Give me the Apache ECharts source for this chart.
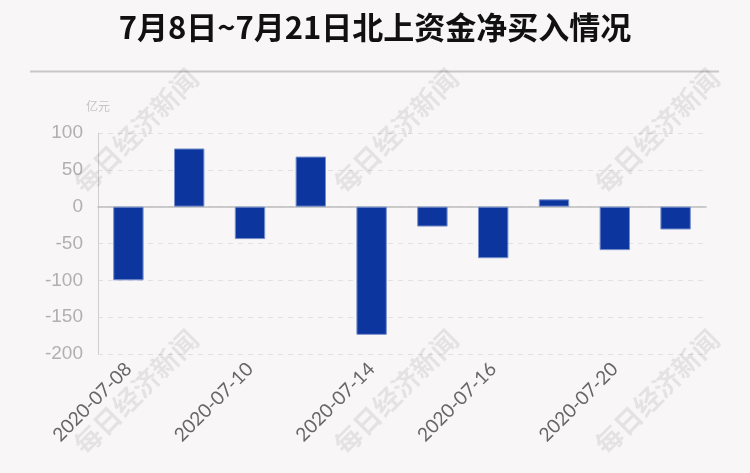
<!DOCTYPE html>
<html>
<head>
<meta charset="utf-8">
<script src="https://cdn.jsdelivr.net/npm/echarts@6/dist/echarts.min.js"></script>
<style>html,body{margin:0;padding:0;background:#f9f6f7;}#c{width:750px;height:473px;}</style>
</head>
<body>
<div id="c"></div>
<script>
var categories = ['2020-07-08','2020-07-09','2020-07-10','2020-07-13','2020-07-14','2020-07-15','2020-07-16','2020-07-17','2020-07-20','2020-07-21'];
var netBuy = [-100, 79, -44, 68, -174, -27, -70, 10, -59, -31];
var yTicks = {min: -200, max: 100, interval: 50};
var titleText = '7月8日~7月21日北上资金净买入情况';
var unitText = '亿元';
var watermarkText = '每日经济新闻';
var watermarkSpots = [[136,131],[396,131],[657,131],[136,392],[396,392],[657,392]];

var chart = echarts.init(document.getElementById('c'));
var graphics = [{
  type: 'line', shape: {x1: 30, y1: 71.5, x2: 719, y2: 71.5},
  style: {stroke: '#c8c8c8', lineWidth: 2}, z: 10
}];
watermarkSpots.forEach(function (p) {
  graphics.push({
    type: 'text', x: p[0], y: p[1], rotation: Math.PI / 4, z: 100,
    style: {text: watermarkText, fill: 'rgba(0,0,0,0.08)',
      font: 'bold 27px "Noto Sans CJK SC"', align: 'center', verticalAlign: 'middle',
      textAlign: 'center', textVerticalAlign: 'middle'}
  });
});

chart.setOption({
  backgroundColor: '#f9f6f7',
  animation: false,
  title: {
    text: titleText, left: 'center', top: 7,
    textStyle: {fontSize: 31, fontWeight: 'bold', color: '#111', fontFamily: '"Noto Sans CJK SC", sans-serif'}
  },
  graphic: graphics,
  grid: {left: 98, right: 44, top: 133, bottom: 119},
  xAxis: {
    type: 'category', data: categories,
    axisLine: {onZero: true, lineStyle: {color: '#bdbdbd', width: 1.5}},
    axisTick: {show: false},
    axisLabel: {interval: 1, rotate: 45, color: '#666', fontSize: 19, fontFamily: 'Lato', margin: 12}
  },
  yAxis: {
    type: 'value', min: yTicks.min, max: yTicks.max, interval: yTicks.interval,
    name: unitText, nameGap: 21,
    nameTextStyle: {color: '#c4c4c4', fontSize: 12, fontFamily: '"Noto Sans CJK SC"'},
    axisLine: {show: true, lineStyle: {color: '#cfcfcf'}},
    axisTick: {show: false},
    axisLabel: {color: '#b0b0b0', fontSize: 19, fontFamily: '"Liberation Sans", Arial', margin: 15},
    splitLine: {lineStyle: {color: '#e2e0e1', type: [5, 5]}}
  },
  series: [{
    type: 'bar', data: netBuy, barWidth: '50%',
    itemStyle: {color: '#0d359e', borderColor: '#7890cc', borderWidth: 1}
  }]
});
</script>
</body>
</html>
